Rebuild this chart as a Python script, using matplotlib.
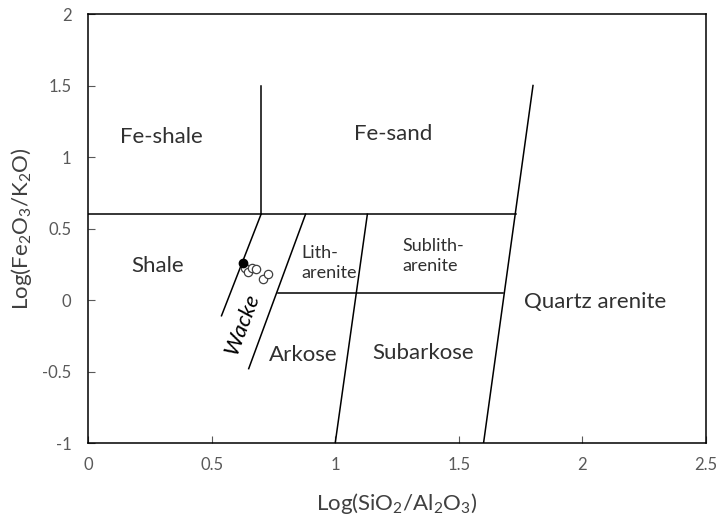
import matplotlib
matplotlib.use("Agg")
import matplotlib.pyplot as plt

plt.rcParams['font.family'] = ['Lato', 'DejaVu Sans']
plt.rcParams['mathtext.default'] = 'regular'

# классификационные границы (Herron, 1988)
boundary_lines = [
    ([0.0, 1.73], [0.6, 0.6]),      # граница Fe-shale / Fe-sand
    ([0.7, 0.7], [0.6, 1.5]),       # Fe-shale | Fe-sand
    ([1.6, 1.8], [-1.0, 1.5]),      # Quartz arenite
    ([1.0, 1.13], [-1.0, 0.6]),     # Arkose | Subarkose
    ([0.65, 0.88], [-0.48, 0.6]),   # Wacke | Lith-arenite / Arkose
    ([0.54, 0.7], [-0.11, 0.6]),    # Shale | Wacke
    ([0.77, 1.68], [0.05, 0.05]),   # Litharenite / Arkose
]

# точки образцов
filled_x = [0.628]
filled_y = [0.261]
open_x = [0.636, 0.648, 0.662, 0.68, 0.708, 0.727]
open_y = [0.222, 0.198, 0.226, 0.215, 0.146, 0.182]

x_ticks = [0, 0.5, 1, 1.5, 2, 2.5]
y_ticks = [-1, -0.5, 0, 0.5, 1, 1.5, 2]

fig = plt.figure(figsize=(7.19, 5.19), dpi=100)
ax = fig.add_axes([0.1224, 0.1464, 0.8596, 0.8266])

for xs, ys in boundary_lines:
    ax.plot(xs, ys, color='black', lw=1.1)

ax.plot(open_x, open_y, 'o', mfc='white', mec='#404040', ms=6, mew=0.9)
ax.plot(filled_x, filled_y, 'o', color='black', ms=6)

txt = '#303030'
big = 16
ax.text(0.297, 1.14, 'Fe-shale', fontsize=big, ha='center', va='center', color=txt)
ax.text(1.236, 1.16, 'Fe-sand', fontsize=big, ha='center', va='center', color=txt)
ax.text(0.283, 0.24, 'Shale', fontsize=big, ha='center', va='center', color=txt)
ax.text(0.862, 0.262, 'Lith-\narenite', fontsize=13, ha='left', va='center',
        color=txt, linespacing=1.3)
ax.text(1.27, 0.31, 'Sublith-\narenite', fontsize=13, ha='left', va='center',
        color=txt, linespacing=1.3)
ax.text(0.87, -0.385, 'Arkose', fontsize=big, ha='center', va='center', color=txt)
ax.text(1.357, -0.37, 'Subarkose', fontsize=big, ha='center', va='center', color=txt)
ax.text(2.05, -0.014, 'Quartz arenite', fontsize=big, ha='center', va='center', color=txt)
ax.text(0.625, -0.17, 'Wacke', fontsize=big, ha='center', va='center', color='black',
        rotation=69, style='italic', rotation_mode='anchor')

ax.set_xlim(0, 2.5)
ax.set_ylim(-1, 2)
ax.set_xticks(x_ticks)
ax.set_yticks(y_ticks)
ax.set_xticklabels(['0', '0.5', '1', '1.5', '2', '2.5'])
ax.set_yticklabels(['-1', '-0.5', '0', '0.5', '1', '1.5', '2'])
ax.tick_params(direction='in', length=5, colors='#595959', labelsize=12, pad=10)
ax.tick_params(axis='y', pad=12)

for sp in ax.spines.values():
    sp.set_color('black')
    sp.set_linewidth(1.1)

ax.set_xlabel(r'Log(SiO$_2$/Al$_2$O$_3$)', fontsize=16, color='#404040', labelpad=13)
ax.set_ylabel(r'Log(Fe$_2$O$_3$/K$_2$O)', fontsize=16, color='#404040', labelpad=6)

fig.savefig('out.png', dpi=100)
